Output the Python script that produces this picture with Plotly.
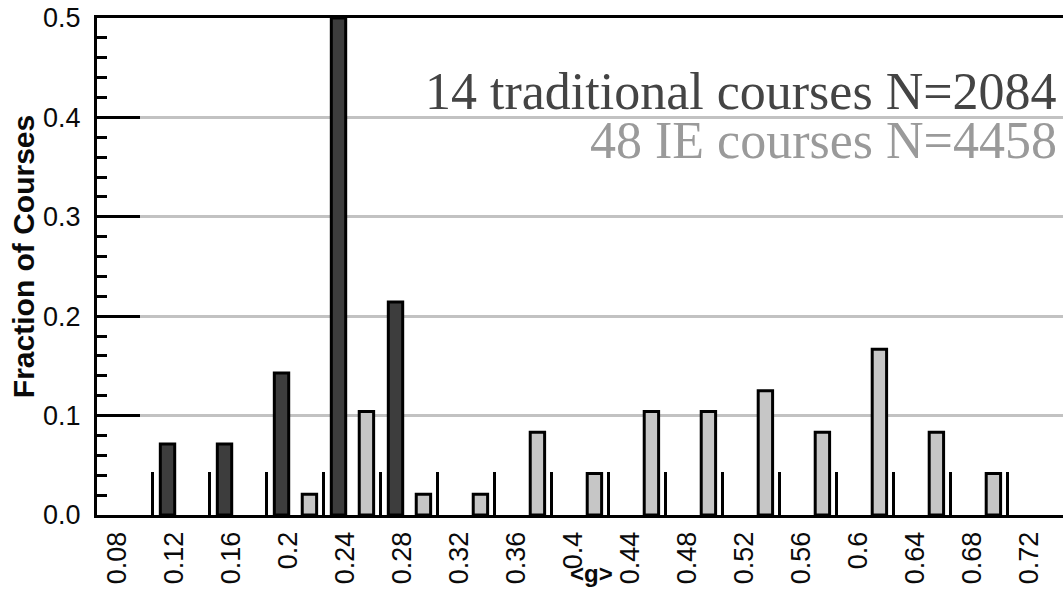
import plotly.graph_objects as go

# Histogram of average normalized gain <g>, bins of width 0.04
bin_centers = [0.125, 0.165, 0.205, 0.245, 0.285, 0.325, 0.365, 0.405,
               0.445, 0.485, 0.525, 0.565, 0.605, 0.645, 0.685]
bin_width = 0.04

# Number of courses falling in each bin
trad_counts = [1, 1, 2, 7, 3, 0, 0, 0, 0, 0, 0, 0, 0, 0, 0]
ie_counts = [0, 0, 1, 5, 1, 1, 4, 2, 5, 5, 6, 4, 8, 4, 2]

trad_courses, trad_students = 14, 2084
ie_courses, ie_students = 48, 4458

trad_name = f"{trad_courses} traditional courses N={trad_students}"
ie_name = f"{ie_courses} IE courses N={ie_students}"

# empty bins get no bar at all (avoids a flat outline on the axis)
trad_frac = [c / trad_courses if c else None for c in trad_counts]
ie_frac = [c / ie_courses if c else None for c in ie_counts]

# Axis tick labels
x_tickvals = [0.08, 0.12, 0.16, 0.20, 0.24, 0.28, 0.32, 0.36, 0.40,
              0.44, 0.48, 0.52, 0.56, 0.60, 0.64, 0.68, 0.72]
x_ticktext = ["0.08", "0.12", "0.16", "0.2", "0.24", "0.28", "0.32", "0.36", "0.4",
              "0.44", "0.48", "0.52", "0.56", "0.6", "0.64", "0.68", "0.72"]

# bin boundaries, marked by inside ticks along the x axis
bin_edges = [c - bin_width / 2 for c in bin_centers] + [bin_centers[-1] + bin_width / 2]

DARK = "#3d3d3d"
LIGHT = "#c6c6c6"
INK = "#0a0a0a"
SANS = "Liberation Sans, Arial, sans-serif"
SERIF = "Liberation Serif, Times New Roman, serif"

fig = go.Figure()
fig.add_trace(go.Bar(
    x=bin_centers, y=trad_frac, name=trad_name,
    width=0.0101, offset=-0.0146,
    marker=dict(color=DARK, line=dict(color="black", width=3)),
))
fig.add_trace(go.Bar(
    x=bin_centers, y=ie_frac, name=ie_name,
    width=0.0101, offset=0.0050,
    marker=dict(color=LIGHT, line=dict(color="black", width=3)),
))

fig.update_layout(
    width=1063, height=589, autosize=False,
    margin=dict(l=97, r=0, t=18, b=74),
    paper_bgcolor="white", plot_bgcolor="white",
    barmode="overlay", showlegend=False,
    font=dict(family=SANS, size=26, color=INK),
    xaxis=dict(
        range=[0.06596, 0.7439],
        tickmode="array", tickvals=x_tickvals, ticktext=x_ticktext,
        tickangle=-90, ticks="", ticklabelstandoff=3,
        tickfont=dict(family=SANS, size=27, color=INK),
        showline=True, linewidth=3, linecolor="black", mirror=True,
        showgrid=False, zeroline=False,
        minor=dict(tickmode="array", tickvals=bin_edges, ticks="inside",
                   ticklen=43, tickwidth=3, tickcolor="black", showgrid=False),
    ),
    yaxis=dict(
        range=[0, 0.5], tick0=0, dtick=0.1, tickformat=".1f",
        ticks="inside", ticklen=43, tickwidth=3, tickcolor="black",
        ticklabelstandoff=8,
        tickfont=dict(family=SANS, size=27, color=INK),
        showline=True, linewidth=3, linecolor="black",
        showgrid=True, gridcolor="#c2c2c2", gridwidth=2.5,
        zeroline=False,
        minor=dict(dtick=0.02, ticks="inside", ticklen=10, tickwidth=3,
                   tickcolor="black", showgrid=False),
    ),
)

# y axis title, placed by hand so it sits a little above the plot centre
fig.add_annotation(text="<b>Fraction of Courses</b>", xref="paper", yref="paper",
                   x=-0.076, y=0.52, xanchor="center", yanchor="middle",
                   textangle=-90, showarrow=False,
                   font=dict(family=SANS, size=30, color=INK))

# Series labels in the upper right, coloured like their bars
fig.add_annotation(text=trad_name, xref="paper", yref="paper",
                   x=0.9959, y=0.791, xanchor="right", yanchor="bottom",
                   showarrow=False,
                   font=dict(family=SERIF, size=52, color="#444444"))
fig.add_annotation(text=ie_name, xref="paper", yref="paper",
                   x=0.9959, y=0.693, xanchor="right", yanchor="bottom",
                   showarrow=False,
                   font=dict(family=SERIF, size=52, color="#9a9a9a"))

# x axis title
fig.add_annotation(text="<b>&lt;g&gt;</b>", xref="paper", yref="paper",
                   x=0.512, y=-0.118, xanchor="center", yanchor="middle",
                   showarrow=False,
                   font=dict(family=SANS, size=24, color=INK))

fig.write_html("out.html")
